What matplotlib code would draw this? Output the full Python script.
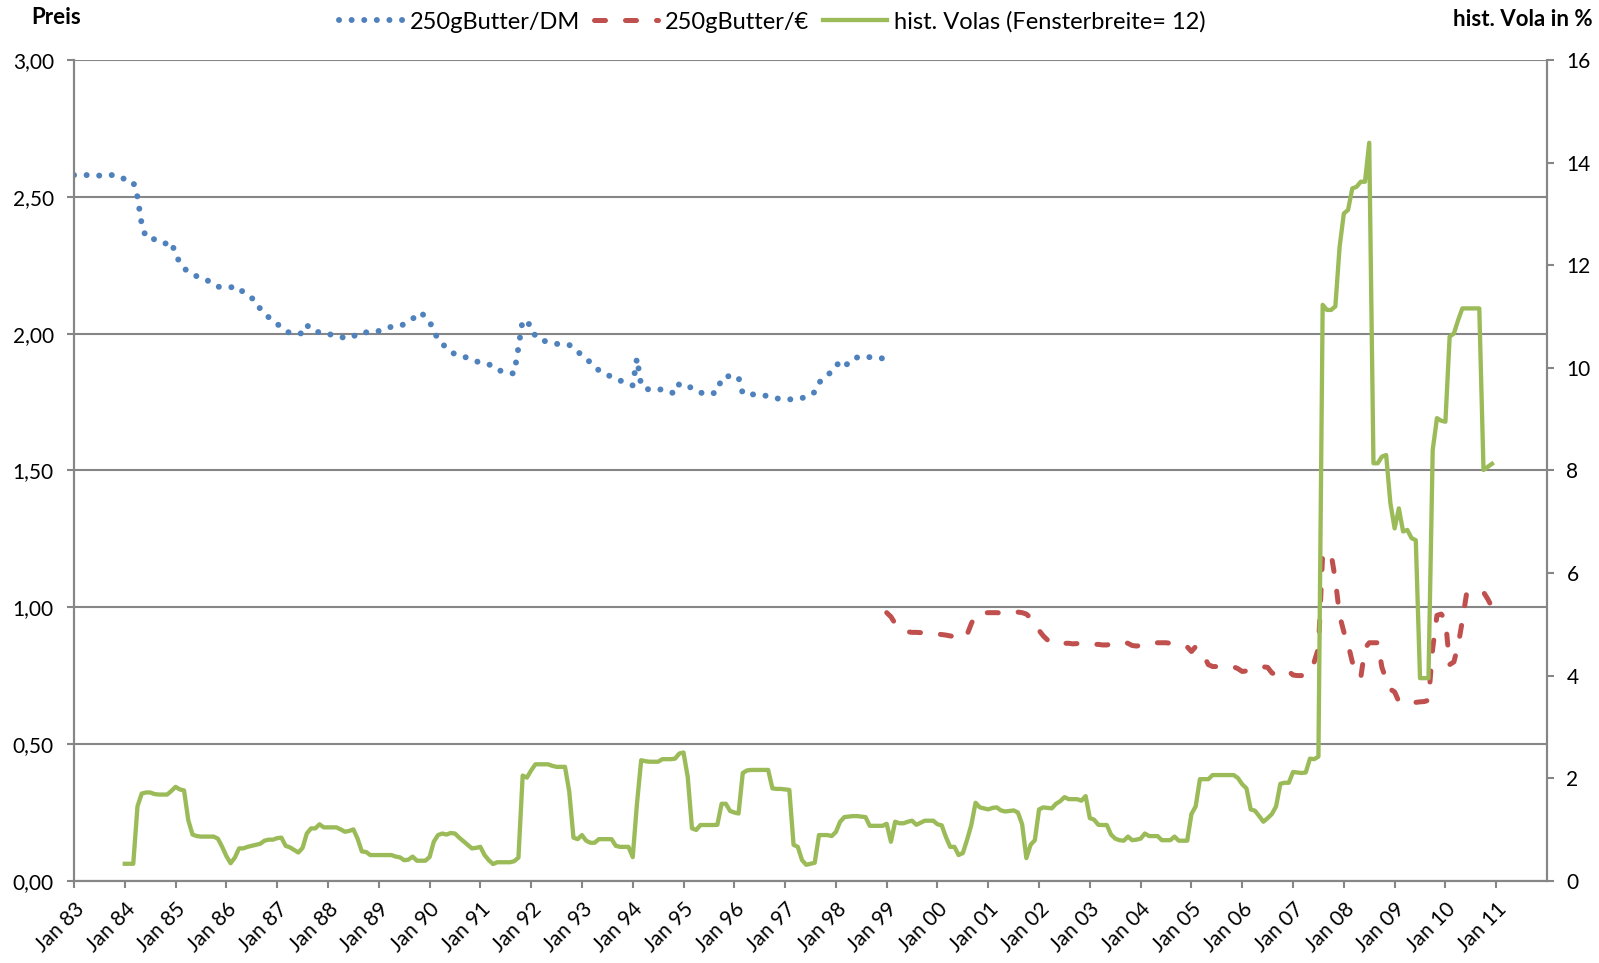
import matplotlib
matplotlib.use("Agg")
import matplotlib.pyplot as plt
from matplotlib.ticker import FuncFormatter, MultipleLocator

plt.rcParams['font.family'] = ['Lato', 'DejaVu Sans']

## Data (monthly)
tick_labels = ["Jan %02d" % (y % 100) for y in range(1983, 2012)]

# 250g Butter in DM-Zeit, Jan 83 - Dec 98
butter_dm = [
    2.58, 2.58, 2.58, 2.58, 2.58, 2.58, 2.578, 2.58, 2.58, 2.58, 2.58, 2.572,
    2.565, 2.56, 2.555, 2.50, 2.40, 2.352, 2.35, 2.345, 2.335, 2.33, 2.33, 2.336,
    2.29, 2.26, 2.24, 2.225, 2.218, 2.21, 2.205, 2.20, 2.19, 2.178, 2.172, 2.17,
    2.17, 2.17, 2.17, 2.17, 2.15, 2.14, 2.13, 2.12, 2.09, 2.075, 2.06, 2.045,
    2.035, 2.025, 2.012, 2.002, 2.0, 2.0, 2.002, 2.032, 2.015, 2.006, 2.006, 2.006,
    2.0, 1.995, 1.99, 1.988, 1.985, 1.983, 1.99, 2.0, 2.006, 2.005, 2.005, 2.005,
    2.01, 2.018, 2.022, 2.025, 2.027, 2.028, 2.035, 2.045, 2.055, 2.065, 2.078, 2.06,
    2.045, 2.01, 1.98, 1.962, 1.95, 1.935, 1.925, 1.92, 1.916, 1.912, 1.905, 1.899,
    1.895, 1.89, 1.887, 1.884, 1.872, 1.862, 1.858, 1.855, 1.855, 1.95, 2.05, 2.04,
    2.03, 1.99, 1.978, 1.974, 1.97, 1.967, 1.963, 1.961, 1.96, 1.959, 1.948, 1.935,
    1.92, 1.908, 1.895, 1.88, 1.866, 1.857, 1.849, 1.843, 1.836, 1.829, 1.822, 1.815,
    1.811, 1.91, 1.81, 1.80, 1.795, 1.793, 1.795, 1.797, 1.792, 1.786, 1.781, 1.817,
    1.813, 1.81, 1.80, 1.79, 1.785, 1.78, 1.778, 1.782, 1.788, 1.838, 1.842, 1.846,
    1.848, 1.84, 1.781, 1.778, 1.778, 1.778, 1.776, 1.774, 1.772, 1.768, 1.764, 1.76,
    1.76, 1.76, 1.76, 1.762, 1.765, 1.768, 1.775, 1.787, 1.82, 1.838, 1.85, 1.86,
    1.885, 1.893, 1.878, 1.895, 1.91, 1.913, 1.916, 1.918, 1.914, 1.91, 1.91, 1.91,
]

# 250g Butter in Euro, Jan 99 - Dec 10
butter_eur = [
    0.98, 0.965, 0.94, 0.93, 0.915, 0.91, 0.908, 0.908, 0.907, 0.906, 0.905, 0.903,
    0.902, 0.90, 0.898, 0.895, 0.892, 0.889, 0.886, 0.90, 0.94, 0.972, 0.978, 0.979,
    0.98, 0.98, 0.98, 0.979, 0.978, 0.98, 0.983, 0.982, 0.98, 0.975, 0.96, 0.945,
    0.915, 0.895, 0.88, 0.872, 0.877, 0.87, 0.868, 0.868, 0.866, 0.867, 0.868, 0.868,
    0.866, 0.864, 0.864, 0.862, 0.862, 0.865, 0.868, 0.87, 0.873, 0.868, 0.86, 0.858,
    0.86, 0.866, 0.869, 0.87, 0.87, 0.87, 0.87, 0.868, 0.866, 0.862, 0.86, 0.855,
    0.838, 0.856, 0.84, 0.82, 0.79, 0.783, 0.783, 0.782, 0.78, 0.782, 0.782, 0.775,
    0.765, 0.767, 0.767, 0.772, 0.778, 0.782, 0.78, 0.76, 0.752, 0.755, 0.758, 0.765,
    0.752, 0.75, 0.75, 0.752, 0.77, 0.80, 0.85, 1.195, 1.195, 1.195, 1.10, 0.97,
    0.91, 0.865, 0.80, 0.77, 0.742, 0.85, 0.87, 0.87, 0.87, 0.78, 0.735, 0.70,
    0.69, 0.655, 0.652, 0.652, 0.652, 0.652, 0.654, 0.655, 0.66, 0.85, 0.97, 0.975,
    0.955, 0.79, 0.80, 0.86, 0.95, 1.05, 1.055, 1.055, 1.055, 1.055, 1.03, 1.0,
]

# historische Volatilitaet in %, Jan 84 - Dec 10
hist_vola = [
    0.33, 0.33, 0.33, 1.45, 1.70, 1.72, 1.72, 1.69, 1.68, 1.68, 1.68, 1.75,
    1.83, 1.78, 1.76, 1.18, 0.90, 0.87, 0.86, 0.86, 0.86, 0.86, 0.82, 0.66,
    0.48, 0.34, 0.45, 0.63, 0.63, 0.66, 0.68, 0.70, 0.72, 0.78, 0.80, 0.80,
    0.83, 0.84, 0.68, 0.65, 0.60, 0.55, 0.64, 0.92, 1.02, 1.02, 1.10, 1.04,
    1.04, 1.04, 1.04, 1.00, 0.955, 0.97, 1.00, 0.82, 0.57, 0.56, 0.50, 0.50,
    0.50, 0.50, 0.50, 0.50, 0.47, 0.455, 0.40, 0.41, 0.47, 0.39, 0.39, 0.39,
    0.46, 0.76, 0.89, 0.92, 0.90, 0.93, 0.92, 0.84, 0.77, 0.70, 0.63, 0.64,
    0.66, 0.50, 0.40, 0.325, 0.36, 0.36, 0.36, 0.36, 0.38, 0.45, 2.05, 2.01,
    2.15, 2.27, 2.27, 2.27, 2.27, 2.24, 2.22, 2.22, 2.22, 1.74, 0.84, 0.81,
    0.89, 0.78, 0.74, 0.74, 0.81, 0.81, 0.81, 0.81, 0.68, 0.66, 0.66, 0.66,
    0.46, 1.50, 2.35, 2.33, 2.32, 2.32, 2.32, 2.37, 2.37, 2.37, 2.38, 2.48,
    2.50, 2.02, 1.02, 0.99, 1.086, 1.086, 1.086, 1.086, 1.09, 1.50, 1.50, 1.36,
    1.33, 1.31, 2.10, 2.15, 2.16, 2.16, 2.16, 2.16, 2.16, 1.80, 1.79, 1.79,
    1.78, 1.77, 0.70, 0.66, 0.40, 0.31, 0.33, 0.35, 0.89, 0.89, 0.89, 0.87,
    0.95, 1.15, 1.24, 1.25, 1.26, 1.26, 1.25, 1.24, 1.07, 1.07, 1.07, 1.07,
    1.11, 0.76, 1.15, 1.12, 1.12, 1.15, 1.17, 1.09, 1.13, 1.17, 1.17, 1.17,
    1.10, 1.08, 0.85, 0.66, 0.66, 0.50, 0.54, 0.80, 1.09, 1.52, 1.43, 1.41,
    1.39, 1.42, 1.43, 1.37, 1.35, 1.36, 1.37, 1.33, 1.10, 0.44, 0.70, 0.79,
    1.39, 1.43, 1.42, 1.41, 1.50, 1.55, 1.63, 1.59, 1.59, 1.59, 1.56, 1.65,
    1.22, 1.19, 1.09, 1.086, 1.086, 0.90, 0.82, 0.79, 0.78, 0.86, 0.79, 0.80,
    0.82, 0.92, 0.87, 0.87, 0.87, 0.79, 0.79, 0.79, 0.86, 0.78, 0.78, 0.78,
    1.30, 1.45, 1.98, 1.98, 1.98, 2.06, 2.06, 2.06, 2.06, 2.06, 2.06, 2.00,
    1.88, 1.80, 1.39, 1.365, 1.26, 1.15, 1.22, 1.30, 1.45, 1.89, 1.91, 1.91,
    2.12, 2.11, 2.10, 2.11, 2.38, 2.37, 2.42, 11.23, 11.13, 11.13, 11.2, 12.36,
    13.01, 13.08, 13.5, 13.53, 13.63, 13.63, 14.39, 8.14, 8.14, 8.27, 8.30, 7.36,
    6.87, 7.26, 6.81, 6.84, 6.68, 6.64, 3.95, 3.95, 3.95, 8.4, 9.02, 8.97,
    8.95, 10.61, 10.67, 10.93, 11.16, 11.16, 11.16, 11.16, 11.16, 8.01, 8.07, 8.13,
]

# month index, 0 = Jan 83
x_dm = list(range(0, len(butter_dm)))
x_eur = list(range(len(butter_dm), len(butter_dm) + len(butter_eur)))
x_vola = list(range(12, 12 + len(hist_vola)))

blue = '#4F81BD'
red = '#C0504D'
green = '#9BBB59'
grid = '#868686'

fig = plt.figure(figsize=(15.99, 9.63), dpi=100)
ax = fig.add_axes([74 / 1599, 82.3 / 963, (1547 - 74) / 1599, (880.7 - 60.2) / 963])
ax2 = ax.twinx()

l1, = ax.plot(x_dm, butter_dm, color=blue, lw=4.3, linestyle=(0, (0.01, 2.1)),
              dash_capstyle='round', label='250gButter/DM')
l2, = ax.plot(x_eur, butter_eur, color=red, lw=3.6, linestyle=(0, (2.2, 4.0)),
              dash_capstyle='round', label='250gButter/€')
l3, = ax2.plot(x_vola, hist_vola, color=green, lw=3.1, solid_joinstyle='round',
               label='hist. Volas (Fensterbreite= 12)')

ax.set_xlim(0, 348)
ax.set_ylim(0, 3)
ax2.set_ylim(0, 16)

ax.yaxis.set_major_locator(MultipleLocator(0.5))
ax.yaxis.set_major_formatter(FuncFormatter(lambda v, p: ('%.2f' % v).replace('.', ',')))
ax2.yaxis.set_major_locator(MultipleLocator(2))
ax2.yaxis.set_major_formatter(FuncFormatter(lambda v, p: '%d' % v))

ax.set_xticks(range(0, 348, 12))
ax.set_xticklabels(tick_labels, rotation=45, ha='right', va='top', rotation_mode='anchor')

ax.grid(axis='y', color=grid, lw=1.5)
ax.set_axisbelow(True)

for a in (ax, ax2):
    a.spines['top'].set_visible(False)
    for s in ('left', 'right', 'bottom'):
        a.spines[s].set_color(grid)
        a.spines[s].set_linewidth(1.5)
    a.tick_params(colors=grid, width=1.5, length=5, labelcolor='black', labelsize=15)
ax.tick_params(axis='x', pad=8)
ax.tick_params(axis='y', pad=9.5)
ax2.tick_params(axis='y', pad=9)

fig.text(31 / 1599, 1 - 18 / 963, 'Preis', fontweight='bold', fontsize=16,
         ha='left', va='center')
fig.text(1593 / 1599, 1 - 19 / 963, 'hist. Vola in %', fontweight='bold', fontsize=16,
         ha='right', va='center')

fig.legend([l1, l2, l3], [l1.get_label(), l2.get_label(), l3.get_label()],
           loc='center', bbox_to_anchor=(0.483, 1 - 22 / 963), ncol=3, frameon=False,
           fontsize=17, handlelength=2.7, handletextpad=0.3, columnspacing=0.6,
           borderpad=0)

fig.savefig('out.png', dpi=100)
